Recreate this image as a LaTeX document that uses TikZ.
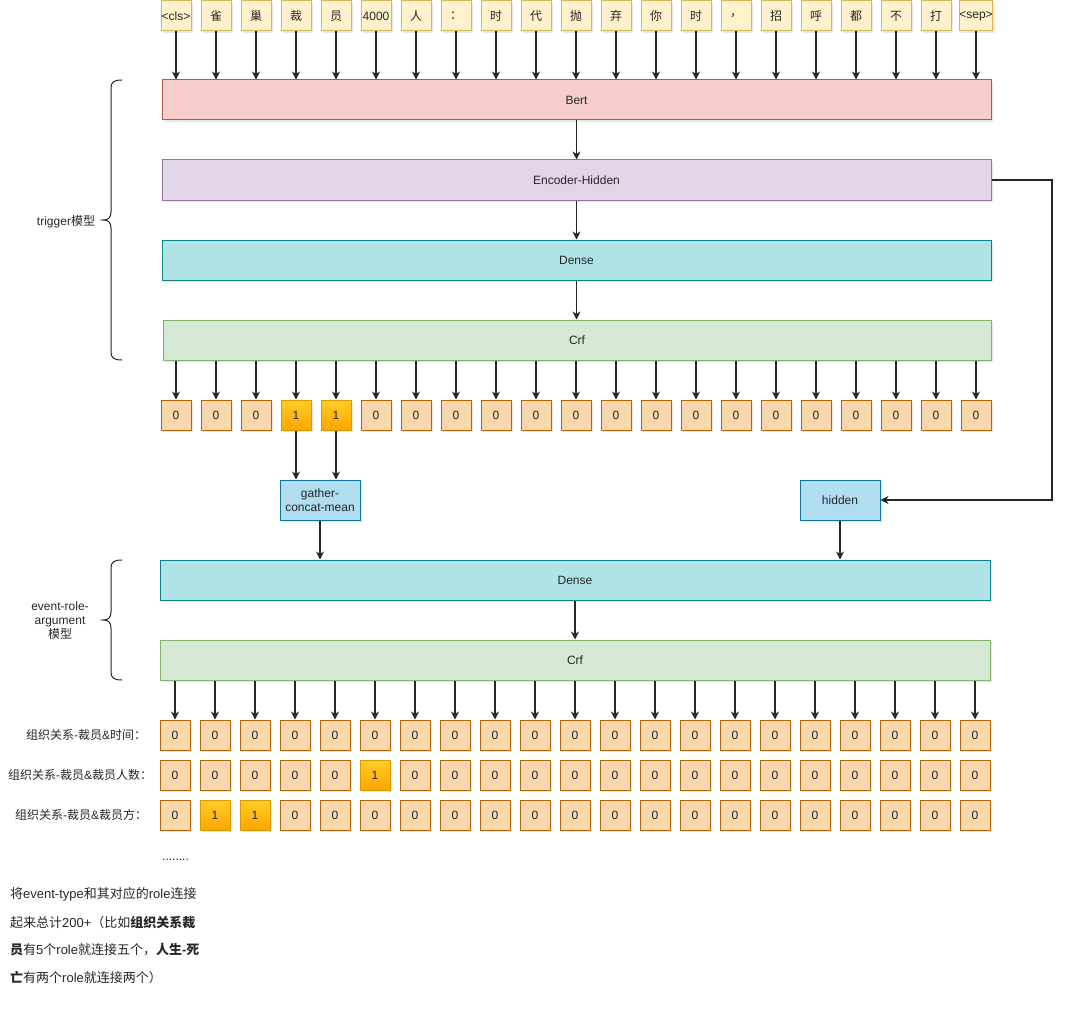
\documentclass[tikz,border=0pt]{standalone}
\usepackage{fontspec}
\setmainfont{Liberation Sans}
\newfontfamily\cjk{Noto Sans CJK SC}
\usetikzlibrary{arrows.meta,shadows,calc}
\definecolor{tokfill}{HTML}{FFF2CC}\definecolor{tokdraw}{HTML}{D6B656}
\definecolor{bertfill}{HTML}{F8CECC}\definecolor{bertdraw}{HTML}{B85450}
\definecolor{encfill}{HTML}{E1D5E7}\definecolor{encdraw}{HTML}{9673A6}
\definecolor{denfill}{HTML}{B0E3E6}\definecolor{dendraw}{HTML}{0E8088}
\definecolor{crffill}{HTML}{D5E8D4}\definecolor{crfdraw}{HTML}{82B366}
\definecolor{outfill}{HTML}{FAD7AC}\definecolor{outdraw}{HTML}{B46504}
\definecolor{onetop}{HTML}{FFCD28}\definecolor{onebot}{HTML}{FFA500}\definecolor{onedraw}{HTML}{D79B00}
\definecolor{bluefill}{HTML}{B1DDF0}\definecolor{bluedraw}{HTML}{10739E}
\newcommand\zh[1]{{\cjk #1}}
\tikzset{
  box/.style={draw, line width=1pt, inner sep=0pt, text=black!85,
    drop shadow={opacity=0.18, shadow xshift=2pt, shadow yshift=-2pt}},
  tokbox/.style={box, fill=tokfill, draw=tokdraw, minimum width=30pt, minimum height=30pt},
  outbox/.style={box, fill=outfill, draw=outdraw, minimum width=30pt, minimum height=30pt},
  onebox/.style={box, top color=onetop, bottom color=onebot, draw=onedraw, minimum width=30pt, minimum height=30pt},
  wide/.style={box, minimum height=40pt},
  bluebox/.style={box, fill=bluefill, draw=bluedraw, minimum width=80pt, minimum height=40pt, align=center},
  arr/.style={line width=1.1pt, draw=black!85, -{Stealth[length=8pt,width=8pt,inset=2.5pt]}},
  brace/.style={line width=1pt, draw=black!85},
  lbl/.style={inner sep=0pt, text=black!85},
  note/.style={lbl, anchor=west, font=\fontsize{13}{15}\selectfont},
}
\begin{document}
\begin{tikzpicture}[x=1pt,y=-1pt, font=\fontsize{12}{14}\selectfont]
\useasboundingbox (0,0) rectangle (1071,1022);

% tokens
\foreach \t [count=\i from 0] in {<cls>,\zh{雀},\zh{巢},\zh{裁},\zh{员},4000,\zh{人},\zh{：},\zh{时},\zh{代},\zh{抛},\zh{弃},\zh{你},\zh{时},\zh{，},\zh{招},\zh{呼},\zh{都},\zh{不},\zh{打},<sep>}{
  \node[tokbox] (t\i) at ({176+40*\i},16) {\t};
}

% trigger model blocks
\node[wide, fill=bertfill, draw=bertdraw, minimum width=829pt] (bert) at (576.5,100) {Bert};
\node[wide, fill=encfill, draw=encdraw, minimum width=829pt] (enc) at (576.5,180) {Encoder-Hidden};
\node[wide, fill=denfill, draw=dendraw, minimum width=829pt] (den) at (576.5,260) {Dense};
\node[wide, fill=crffill, draw=crfdraw, minimum width=828pt] (crf) at (577,340) {Crf};

\foreach \i in {0,...,20}{
  \draw[arr] (t\i.south) -- (t\i.south |- bert.north);
}
\draw[arr] (bert.south) -- (bert.south |- enc.north);
\draw[arr] (enc.south) -- (enc.south |- den.north);
\draw[arr] (den.south) -- (den.south |- crf.north);

% trigger outputs
\foreach \i in {0,1,2,5,6,...,20}{
  \node[outbox] (o\i) at ({176+40*\i},415) {0};
}
\foreach \i in {3,4}{
  \node[onebox] (o\i) at ({176+40*\i},415) {1};
}
\foreach \i in {0,...,20}{
  \draw[arr] (crf.south -| o\i.north) -- (o\i.north);
}

% gather and hidden
\node[bluebox] (gat) at (320,500) {gather-\\concat-mean};
\node[bluebox] (hid) at (840,500) {hidden};
\draw[arr] (o3.south) -- (o3.south |- gat.north);
\draw[arr] (o4.south) -- (o4.south |- gat.north);
\draw[arr] (enc.east) -- ++(60.5,0) |- (hid.east);

% event-role-argument model
\node[wide, fill=denfill, draw=dendraw, minimum width=830pt] (den2) at (575,580) {Dense};
\node[wide, fill=crffill, draw=crfdraw, minimum width=830pt] (crf2) at (575,660) {Crf};
\draw[arr] (gat.south) -- (gat.south |- den2.north);
\draw[arr] (hid.south) -- (hid.south |- den2.north);
\draw[arr] (den2.south) -- (den2.south |- crf2.north);

% role rows
\foreach \i in {0,...,20}{
  \node[outbox] (ra\i) at ({175+40*\i},735) {0};
}
\foreach \i in {0,...,4,6,7,...,20}{
  \node[outbox] (rb\i) at ({175+40*\i},775) {0};
}
\node[onebox] (rb5) at ({175+40*5},775) {1};
\foreach \i in {0,3,4,...,20}{
  \node[outbox] (rc\i) at ({175+40*\i},815) {0};
}
\foreach \i in {1,2}{
  \node[onebox] (rc\i) at ({175+40*\i},815) {1};
}
\foreach \i in {0,...,20}{
  \draw[arr] (crf2.south -| ra\i.north) -- (ra\i.north);
}

% row labels
\node[lbl, anchor=west] (la) at (26,735) {\zh{组织关系}-\zh{裁员}\&\zh{时间：}};
\node[lbl, anchor=west] (lb) at (8,775) {\zh{组织关系}-\zh{裁员}\&\zh{裁员人数：}};
\node[lbl, anchor=west] (lc) at (15,815) {\zh{组织关系}-\zh{裁员}\&\zh{裁员方：}};
\node[lbl, anchor=base west] (dots) at (162,860) {........};

% braces
\draw[brace] (122,80) .. controls (114,80) and (111,82) .. (111,88) -- (111,212)
  .. controls (111,218) and (108,220) .. (103,220)
  .. controls (108,220) and (111,222) .. (111,228) -- (111,352)
  .. controls (111,358) and (114,360) .. (122,360);
\draw[brace] (122,560) .. controls (114,560) and (111,562) .. (111,568) -- (111,612)
  .. controls (111,618) and (108,620) .. (103,620)
  .. controls (108,620) and (111,622) .. (111,628) -- (111,672)
  .. controls (111,678) and (114,680) .. (122,680);
\node[lbl] (trig) at (66,222) {trigger\zh{模型}};
\node[lbl, align=center] (evt) at (60,621) {event-role-\\argument\\\zh{模型}};

% note
\node[note] (n1) at (10,894) {\zh{将}event-type\zh{和其对应的}role\zh{连接}};
\node[note] (n2) at (10,922) {\zh{起来总计}200+\zh{（比如}{\cjk\bfseries 组织关系裁}};
\node[note] (n3) at (10,950) {{\cjk\bfseries 员}\zh{有}5\zh{个}role\zh{就连接五个，}{\cjk\bfseries 人生}\textbf{-}{\cjk\bfseries 死}};
\node[note] (n4) at (10,978) {{\cjk\bfseries 亡}\zh{有两个}role\zh{就连接两个）}};
\end{tikzpicture}
\end{document}
